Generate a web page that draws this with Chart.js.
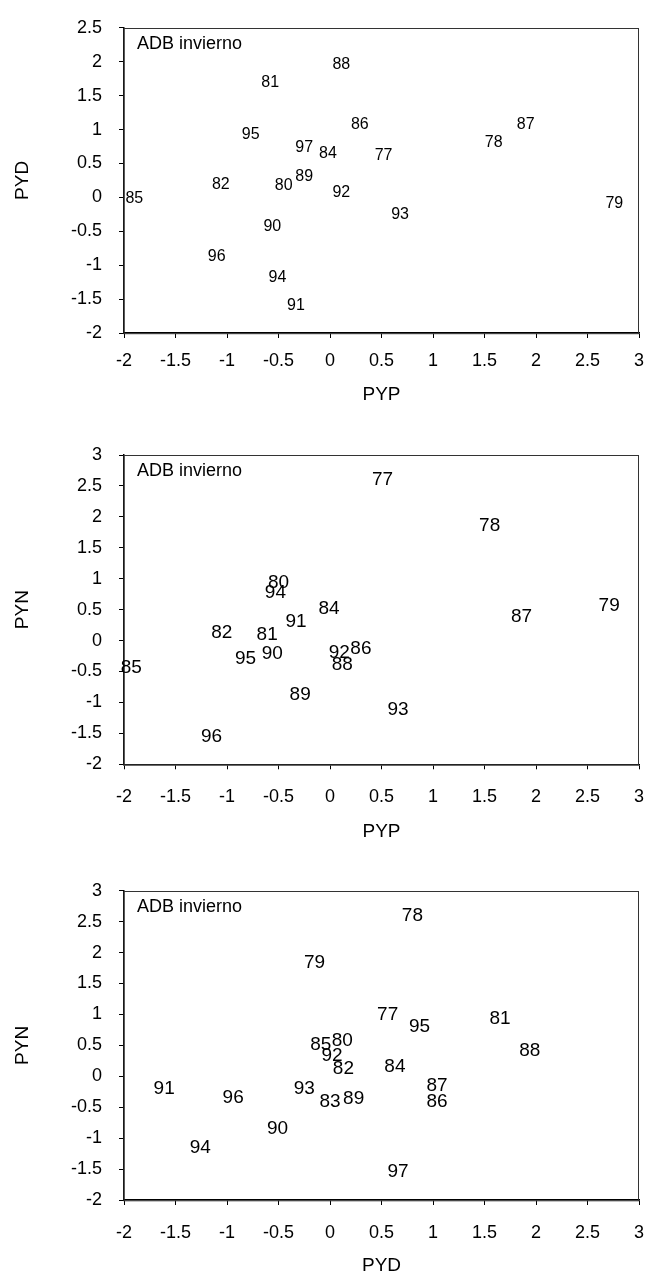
<!DOCTYPE html>
<html>
<head>
<meta charset="utf-8">
<script src="https://cdn.jsdelivr.net/npm/chart.js@4.4.1/dist/chart.umd.min.js"></script>
<style>
  body { margin: 0; background: #fff; }
  canvas { position: absolute; left: 0; }
</style>
</head>
<body>
<canvas id="c1" width="649" height="420" style="top:0px"></canvas>
<canvas id="c2" width="649" height="425" style="top:420px"></canvas>
<canvas id="c3" width="649" height="432" style="top:845px"></canvas>
<script>
// datos (etiqueta = año)
const years1 = [77, 78, 79, 80, 81, 82, 84, 85, 86, 87, 88, 89, 90, 91, 92, 93, 94, 95, 96, 97];
const pyp1   = [0.52, 1.59, 2.76, -0.45, -0.58, -1.06, -0.02, -1.90, 0.29, 1.90, 0.11, -0.25, -0.56, -0.33, 0.11, 0.68, -0.51, -0.77, -1.10, -0.25];
const pyd1   = [0.62, 0.81, -0.09, 0.17, 1.69, 0.19, 0.64, -0.02, 1.08, 1.08, 1.96, 0.31, -0.43, -1.60, 0.07, -0.25, -1.18, 0.92, -0.87, 0.74];

const years2 = [77, 78, 79, 80, 81, 82, 84, 85, 86, 87, 88, 89, 90, 91, 92, 93, 94, 95, 96];
const pyp2   = [0.51, 1.55, 2.71, -0.50, -0.61, -1.05, -0.01, -1.93, 0.30, 1.86, 0.12, -0.29, -0.56, -0.33, 0.09, 0.66, -0.53, -0.82, -1.15];
const pyn2   = [2.60, 1.85, 0.56, 0.94, 0.09, 0.13, 0.52, -0.44, -0.14, 0.39, -0.39, -0.87, -0.22, 0.31, -0.20, -1.12, 0.77, -0.30, -1.55];

const years3 = [77, 78, 79, 80, 81, 82, 83, 84, 85, 86, 87, 88, 89, 90, 91, 92, 93, 94, 95, 96, 97];
const pyd3   = [0.56, 0.80, -0.15, 0.12, 1.65, 0.13, 0.00, 0.63, -0.09, 1.04, 1.04, 1.94, 0.23, -0.51, -1.61, 0.02, -0.25, -1.26, 0.87, -0.94, 0.66];
const pyn3   = [1.00, 2.59, 1.83, 0.57, 0.93, 0.12, -0.41, 0.16, 0.51, -0.42, -0.15, 0.41, -0.37, -0.85, -0.20, 0.33, -0.20, -1.16, 0.80, -0.34, -1.54];

const xTicks   = [-2, -1.5, -1, -0.5, 0, 0.5, 1, 1.5, 2, 2.5, 3];
const yTicks1  = [-2, -1.5, -1, -0.5, 0, 0.5, 1, 1.5, 2, 2.5];
const yTicks23 = [-2, -1.5, -1, -0.5, 0, 0.5, 1, 1.5, 2, 2.5, 3];
const note = 'ADB invierno';

const FONT = '"Liberation Sans", Arial, sans-serif';

// etiquetas de año en cada punto, marco del área y texto "ADB invierno"
const yearLabels = {
  id: 'yearLabels',
  afterDatasetsDraw(chart, args, opts) {
    const ctx = chart.ctx;
    const a = chart.chartArea;
    const meta = chart.getDatasetMeta(0);
    const labels = chart.data.datasets[0].years;
    ctx.save();
    ctx.strokeStyle = '#333';
    ctx.lineWidth = 1;
    ctx.strokeRect(a.left, Math.round(a.top) + 0.5, a.right - a.left - 0.5, a.bottom - a.top);
    ctx.fillStyle = '#000';
    ctx.font = opts.size + 'px ' + FONT;
    ctx.textAlign = 'center';
    ctx.textBaseline = 'middle';
    meta.data.forEach((pt, i) => ctx.fillText(String(labels[i]), pt.x, pt.y));
    ctx.font = '18px ' + FONT;
    ctx.textAlign = 'left';
    ctx.fillText(note, a.left + 13, a.top + 16);
    ctx.restore();
  }
};

function axis(min, max, ticks, title, tickPad, titlePad, fit) {
  return {
    type: 'linear',
    min: min,
    max: max,
    afterBuildTicks: s => { s.ticks = ticks.map(v => ({ value: v })); },
    afterFit: fit,
    border: { display: true, color: '#000', width: 1.5 },
    grid: { drawOnChartArea: false, drawTicks: true, tickLength: 5, color: '#000' },
    ticks: {
      color: '#000',
      autoSkip: false,
      maxRotation: 0,
      padding: tickPad,
      font: { family: FONT, size: 18 },
      callback: v => String(v)
    },
    title: { display: true, text: title, color: '#000', font: { family: FONT, size: 19 }, padding: titlePad }
  };
}

function makeChart(id, years, xs, ys, o) {
  const ctx = document.getElementById(id).getContext('2d');
  return new Chart(ctx, {
    type: 'scatter',
    data: {
      datasets: [{
        years: years,
        data: years.map((yr, i) => ({ x: xs[i], y: ys[i] })),
        pointRadius: 0,
        pointHoverRadius: 0
      }]
    },
    options: {
      responsive: false,
      animation: false,
      devicePixelRatio: 1,
      layout: { padding: { top: o.top, right: 10, left: 0, bottom: 0 } },
      plugins: {
        legend: { display: false },
        tooltip: { enabled: false },
        yearLabels: { size: o.labelSize }
      },
      scales: {
        x: axis(-2, 3, xTicks, o.xTitle, o.xTickPad, { top: 0, bottom: o.xTitlePad }, s => {
          s.height = o.xHeight;
          s.paddingLeft = 0;
          s.paddingRight = 0;
        }),
        y: axis(-2, o.yMax, o.yTicks, o.yTitle, 17, { top: 11.6, bottom: 0 }, s => { s.width = 124; })
      }
    },
    plugins: [yearLabels]
  });
}

makeChart('c1', years1, pyp1, pyd1, {
  top: 24, xHeight: 87, yMax: 2.5, yTicks: yTicks1, xTitle: 'PYP', yTitle: 'PYD',
  xTickPad: 12.5, xTitlePad: 13.6, labelSize: 16
});
makeChart('c2', years2, pyp2, pyn2, {
  top: 35, xHeight: 80.7, yMax: 3, yTicks: yTicks23, xTitle: 'PYP', yTitle: 'PYN',
  xTickPad: 16.6, xTitlePad: 1.6, labelSize: 19
});
makeChart('c3', years3, pyd3, pyn3, {
  top: 45.7, xHeight: 77, yMax: 3, yTicks: yTicks23, xTitle: 'PYD', yTitle: 'PYN',
  xTickPad: 17.5, xTitlePad: 0, labelSize: 19
});
</script>
</body>
</html>
